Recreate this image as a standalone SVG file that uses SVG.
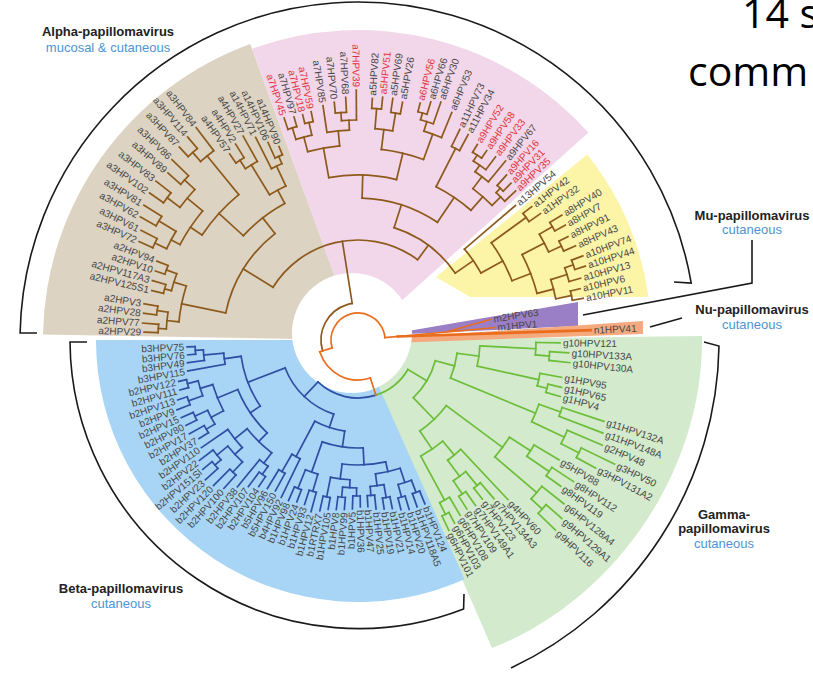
<svg xmlns="http://www.w3.org/2000/svg" width="813" height="673" viewBox="0 0 813 673">
<defs><style>
.t text{font-family:"Liberation Sans",Arial,Helvetica,sans-serif;font-size:10px;fill:#474747;dominant-baseline:central}
.t text.f{text-anchor:end}
.t text.r{fill:#e2333c}
.t path,.t circle{fill:none;stroke-width:1.7;stroke-linecap:square}
.ca path,.ca circle{stroke:#8d5a1c}
.cb path,.cb circle{stroke:#2d50a5}
.cg path,.cg circle{stroke:#6cbd37}
.co path,.co circle{stroke:#e96d1d}
.ttl{font-family:"Liberation Sans",Arial,sans-serif;font-size:13px;text-anchor:middle}
.ttl .h{font-weight:bold;fill:#222}
.ttl .s{fill:#4d94d0}
.con{fill:none;stroke:#1a1a1a;stroke-width:1.6}
.big{font-family:"Open Sans","Liberation Sans",sans-serif;font-size:41px;fill:#000}
</style></defs>
<rect width="813" height="673" fill="#fff"/>
<g id="sectors">
<path d="M358 340L43 334.5A315 315 0 0 1 250.3 44Z" fill="#dcd3c3"/>
<path d="M358 340L252 48.7A310 310 0 0 1 588.4 132.6Z" fill="#f2d6e9"/>
<path d="M436 277L587.3 154.4A295 295 0 0 1 648.5 297L470 297Z" fill="#fcf4a7"/>
<path d="M358 340L702 336C704 470 615 600 492 648Z" fill="#d3eacd"/>
<path d="M358 340L96 340A262 262 0 0 0 464.6 579.3Z" fill="#a8d5f5"/>
<path d="M408 331L578 302L578 326L408 334Z" fill="#9b7fc6"/>
<path d="M392 338L643 321L643 334L392 343Z" fill="#f4a97e"/>
<circle cx="352" cy="333" r="60" fill="#fff"/>
</g>
<g id="connectors" class="con">
<path d="M37 333L20.1 332.9A338 338 0 0 1 691.2 283.1L674 282"/>
<path d="M87 342L70 342A289 289 0 0 0 463.6 609L464 594"/>
<path d="M704 342L719 346A362 362 0 0 1 511 668"/>
<path d="M752 240V283L583 315"/>
<path d="M650 327L682 318"/>
</g>
<g id="alpha" class="t ca" transform="translate(358 340)">
<circle r="37" pathLength="360" stroke-dasharray="98 720" transform="rotate(163)"/>
<circle r="200" pathLength="360" stroke-dasharray="2.4 720" transform="rotate(182.1)"/>
<circle r="203" pathLength="360" stroke-dasharray="2.5 720" transform="rotate(187.1)"/>
<circle r="192" pathLength="360" stroke-dasharray="5.05 720" transform="rotate(183.3)"/>
<circle r="200" pathLength="360" stroke-dasharray="2.6 720" transform="rotate(193.5)"/>
<circle r="204" pathLength="360" stroke-dasharray="2.6 720" transform="rotate(198.8)"/>
<circle r="193" pathLength="360" stroke-dasharray="5.3 720" transform="rotate(194.8)"/>
<circle r="180" pathLength="360" stroke-dasharray="11.65 720" transform="rotate(185.8)"/>
<circle r="225" pathLength="360" stroke-dasharray="2.6 720" transform="rotate(204.2)"/>
<circle r="232" pathLength="360" stroke-dasharray="2.7 720" transform="rotate(209.5)"/>
<circle r="212" pathLength="360" stroke-dasharray="5.35 720" transform="rotate(205.5)"/>
<circle r="238" pathLength="360" stroke-dasharray="3 720" transform="rotate(215.2)"/>
<circle r="236" pathLength="360" stroke-dasharray="2.8 720" transform="rotate(221.3)"/>
<circle r="222" pathLength="360" stroke-dasharray="6 720" transform="rotate(216.7)"/>
<circle r="202" pathLength="360" stroke-dasharray="11.5 720" transform="rotate(208.2)"/>
<circle r="250" pathLength="360" stroke-dasharray="2.8 720" transform="rotate(227.2)"/>
<circle r="238" pathLength="360" stroke-dasharray="4.1 720" transform="rotate(228.6)"/>
<circle r="188" pathLength="360" stroke-dasharray="16.7 720" transform="rotate(213.95)"/>
<circle r="215" pathLength="360" stroke-dasharray="2.6 720" transform="rotate(235.4)"/>
<circle r="205" pathLength="360" stroke-dasharray="3.9 720" transform="rotate(236.7)"/>
<circle r="200" pathLength="360" stroke-dasharray="2.3 720" transform="rotate(245.5)"/>
<circle r="192" pathLength="360" stroke-dasharray="3.45 720" transform="rotate(243.2)"/>
<circle r="170" pathLength="360" stroke-dasharray="6.25 720" transform="rotate(238.65)"/>
<circle r="155" pathLength="360" stroke-dasharray="19.5 720" transform="rotate(222.3)"/>
<circle r="135" pathLength="360" stroke-dasharray="40.45 720" transform="rotate(191.6)"/>
<circle r="222" pathLength="360" stroke-dasharray="2.4 720" transform="rotate(251.6)"/>
<circle r="223" pathLength="360" stroke-dasharray="2.2 720" transform="rotate(256.2)"/>
<circle r="210" pathLength="360" stroke-dasharray="4.5 720" transform="rotate(252.8)"/>
<circle r="228" pathLength="360" stroke-dasharray="2.8 720" transform="rotate(264.3)"/>
<circle r="220" pathLength="360" stroke-dasharray="3.9 720" transform="rotate(265.7)"/>
<circle r="210" pathLength="360" stroke-dasharray="6.15 720" transform="rotate(261.5)"/>
<circle r="195" pathLength="360" stroke-dasharray="9.55 720" transform="rotate(255.05)"/>
<circle r="232" pathLength="360" stroke-dasharray="2.4 720" transform="rotate(273.4)"/>
<circle r="230" pathLength="360" stroke-dasharray="2.4 720" transform="rotate(278.2)"/>
<circle r="212" pathLength="360" stroke-dasharray="4.8 720" transform="rotate(274.6)"/>
<circle r="236" pathLength="360" stroke-dasharray="2.3 720" transform="rotate(284.7)"/>
<circle r="229" pathLength="360" stroke-dasharray="3.35 720" transform="rotate(285.85)"/>
<circle r="219" pathLength="360" stroke-dasharray="4.9 720" transform="rotate(287.5)"/>
<circle r="192" pathLength="360" stroke-dasharray="12.95 720" transform="rotate(277)"/>
<circle r="165" pathLength="360" stroke-dasharray="23.7 720" transform="rotate(259.8)"/>
<circle r="215" pathLength="360" stroke-dasharray="2.4 720" transform="rotate(295.8)"/>
<circle r="220" pathLength="360" stroke-dasharray="2.8 720" transform="rotate(301.4)"/>
<circle r="213" pathLength="360" stroke-dasharray="4.1 720" transform="rotate(302.8)"/>
<circle r="205" pathLength="360" stroke-dasharray="4.65 720" transform="rotate(304.85)"/>
<circle r="208" pathLength="360" stroke-dasharray="2.3 720" transform="rotate(312)"/>
<circle r="202" pathLength="360" stroke-dasharray="3.45 720" transform="rotate(313.15)"/>
<circle r="190" pathLength="360" stroke-dasharray="7.7 720" transform="rotate(307.2)"/>
<circle r="172" pathLength="360" stroke-dasharray="14.05 720" transform="rotate(297)"/>
<circle r="142" pathLength="360" stroke-dasharray="32.35 720" transform="rotate(271.65)"/>
<circle r="208" pathLength="360" stroke-dasharray="2.8 720" transform="rotate(322.5)"/>
<circle r="225" pathLength="360" stroke-dasharray="2.5 720" transform="rotate(328.5)"/>
<circle r="224" pathLength="360" stroke-dasharray="2.8 720" transform="rotate(333.8)"/>
<circle r="210" pathLength="360" stroke-dasharray="5.45 720" transform="rotate(329.75)"/>
<circle r="228" pathLength="360" stroke-dasharray="2.5 720" transform="rotate(339.5)"/>
<circle r="219" pathLength="360" stroke-dasharray="3.75 720" transform="rotate(340.75)"/>
<circle r="218" pathLength="360" stroke-dasharray="2.5 720" transform="rotate(347)"/>
<circle r="202" pathLength="360" stroke-dasharray="5.65 720" transform="rotate(342.6)"/>
<circle r="185" pathLength="360" stroke-dasharray="12.9 720" transform="rotate(332.5)"/>
<circle r="165" pathLength="360" stroke-dasharray="15.05 720" transform="rotate(323.9)"/>
<circle r="140" pathLength="360" stroke-dasharray="11.9 720" transform="rotate(319.5)"/>
<circle r="118" pathLength="360" stroke-dasharray="37.65 720" transform="rotate(287.8)"/>
<circle r="100" pathLength="360" stroke-dasharray="94.8 720" transform="rotate(211.8)"/>
<path transform="rotate(183.3)" d="M192 0H200"/>
<path transform="rotate(188.35)" d="M192 0H203"/>
<path transform="rotate(185.8)" d="M180 0H192"/>
<path transform="rotate(194.8)" d="M193 0H200"/>
<path transform="rotate(200.1)" d="M193 0H204"/>
<path transform="rotate(197.45)" d="M180 0H193"/>
<path transform="rotate(191.6)" d="M135 0H180"/>
<path transform="rotate(205.5)" d="M212 0H225"/>
<path transform="rotate(210.85)" d="M212 0H232"/>
<path transform="rotate(208.2)" d="M202 0H212"/>
<path transform="rotate(216.7)" d="M222 0H238"/>
<path transform="rotate(222.7)" d="M222 0H236"/>
<path transform="rotate(219.7)" d="M202 0H222"/>
<path transform="rotate(213.95)" d="M188 0H202"/>
<path transform="rotate(228.6)" d="M238 0H250"/>
<path transform="rotate(230.65)" d="M188 0H238"/>
<path transform="rotate(222.3)" d="M155 0H188"/>
<path transform="rotate(236.7)" d="M205 0H215"/>
<path transform="rotate(238.65)" d="M170 0H205"/>
<path transform="rotate(246.65)" d="M192 0H200"/>
<path transform="rotate(244.9)" d="M170 0H192"/>
<path transform="rotate(241.8)" d="M155 0H170"/>
<path transform="rotate(232.05)" d="M135 0H155"/>
<path transform="rotate(211.8)" d="M100 0H135"/>
<path transform="rotate(252.8)" d="M210 0H222"/>
<path transform="rotate(257.3)" d="M210 0H223"/>
<path transform="rotate(255.05)" d="M195 0H210"/>
<path transform="rotate(265.7)" d="M220 0H228"/>
<path transform="rotate(267.65)" d="M210 0H220"/>
<path transform="rotate(264.6)" d="M195 0H210"/>
<path transform="rotate(259.8)" d="M165 0H195"/>
<path transform="rotate(274.6)" d="M212 0H232"/>
<path transform="rotate(279.4)" d="M212 0H230"/>
<path transform="rotate(277)" d="M192 0H212"/>
<path transform="rotate(285.85)" d="M229 0H236"/>
<path transform="rotate(287.5)" d="M219 0H229"/>
<path transform="rotate(289.95)" d="M192 0H219"/>
<path transform="rotate(283.5)" d="M165 0H192"/>
<path transform="rotate(271.65)" d="M142 0H165"/>
<path transform="rotate(297)" d="M172 0H215"/>
<path transform="rotate(302.8)" d="M213 0H220"/>
<path transform="rotate(304.85)" d="M205 0H213"/>
<path transform="rotate(307.2)" d="M190 0H205"/>
<path transform="rotate(313.15)" d="M202 0H208"/>
<path transform="rotate(314.9)" d="M190 0H202"/>
<path transform="rotate(311.05)" d="M172 0H190"/>
<path transform="rotate(304)" d="M142 0H172"/>
<path transform="rotate(287.8)" d="M118 0H142"/>
<path transform="rotate(323.9)" d="M165 0H208"/>
<path transform="rotate(329.75)" d="M210 0H225"/>
<path transform="rotate(335.2)" d="M210 0H224"/>
<path transform="rotate(332.5)" d="M185 0H210"/>
<path transform="rotate(340.75)" d="M219 0H228"/>
<path transform="rotate(342.6)" d="M202 0H219"/>
<path transform="rotate(348.25)" d="M202 0H218"/>
<path transform="rotate(345.4)" d="M185 0H202"/>
<path transform="rotate(338.95)" d="M165 0H185"/>
<path transform="rotate(331.4)" d="M140 0H165"/>
<path transform="rotate(325.45)" d="M118 0H140"/>
<path transform="rotate(306.6)" d="M100 0H118"/>
<path transform="rotate(261)" d="M37 0H100"/>
<g id="a2HPV29" transform="rotate(182.1)"><path d="M200 0H214"/><text class="f" transform="translate(217)rotate(180)">a2HPV29</text></g>
<g id="a2HPV77" transform="rotate(184.5)"><path d="M200 0H216"/><text class="f" transform="translate(219)rotate(180)">a2HPV77</text></g>
<g id="a2HPV28" transform="rotate(187.1)"><path d="M203 0H216"/><text class="f" transform="translate(219)rotate(180)">a2HPV28</text></g>
<g id="a2HPV3" transform="rotate(189.6)"><path d="M203 0H217"/><text class="f" transform="translate(220)rotate(180)">a2HPV3</text></g>
<g id="a2HPV125S1" transform="rotate(193.5)"><path d="M200 0H212"/><text class="f" transform="translate(215)rotate(180)">a2HPV125S1</text></g>
<g id="a2HPV117A3" transform="rotate(196.1)"><path d="M200 0H214"/><text class="f" transform="translate(217)rotate(180)">a2HPV117A3</text></g>
<g id="a2HPV10" transform="rotate(198.8)"><path d="M204 0H214"/><text class="f" transform="translate(217)rotate(180)">a2HPV10</text></g>
<g id="a2HPV94" transform="rotate(201.4)"><path d="M204 0H216"/><text class="f" transform="translate(219)rotate(180)">a2HPV94</text></g>
<g id="a3HPV72" transform="rotate(204.2)"><path d="M225 0H240"/><text class="f" transform="translate(243)rotate(180)">a3HPV72</text></g>
<g id="a3HPV61" transform="rotate(206.8)"><path d="M225 0H243"/><text class="f" transform="translate(246)rotate(180)">a3HPV61</text></g>
<g id="a3HPV62" transform="rotate(209.5)"><path d="M232 0H250"/><text class="f" transform="translate(253)rotate(180)">a3HPV62</text></g>
<g id="a3HPV81" transform="rotate(212.2)"><path d="M232 0H253"/><text class="f" transform="translate(256)rotate(180)">a3HPV81</text></g>
<g id="a3HPV102" transform="rotate(215.2)"><path d="M238 0H255"/><text class="f" transform="translate(258)rotate(180)">a3HPV102</text></g>
<g id="a3HPV83" transform="rotate(218.2)"><path d="M238 0H257"/><text class="f" transform="translate(260)rotate(180)">a3HPV83</text></g>
<g id="a3HPV89" transform="rotate(221.3)"><path d="M236 0H253"/><text class="f" transform="translate(256)rotate(180)">a3HPV89</text></g>
<g id="a3HPV86" transform="rotate(224.1)"><path d="M236 0H259"/><text class="f" transform="translate(262)rotate(180)">a3HPV86</text></g>
<g id="a3HPV87" transform="rotate(227.2)"><path d="M250 0H263"/><text class="f" transform="translate(266)rotate(180)">a3HPV87</text></g>
<g id="a3HPV114" transform="rotate(230)"><path d="M250 0H265"/><text class="f" transform="translate(268)rotate(180)">a3HPV114</text></g>
<g id="a3HPV84" transform="rotate(232.7)"><path d="M238 0H267"/><text class="f" transform="translate(270)rotate(180)">a3HPV84</text></g>
<g id="a4HPV57" transform="rotate(235.4)"><path d="M215 0H226"/><text class="f" transform="translate(229)rotate(180)">a4HPV57</text></g>
<g id="a4HPV2" transform="rotate(238)"><path d="M215 0H231"/><text class="f" transform="translate(234)rotate(180)">a4HPV2</text></g>
<g id="a4HPV27" transform="rotate(240.6)"><path d="M205 0H234"/><text class="f" transform="translate(237)rotate(180)">a4HPV27</text></g>
<g id="a14HPV71" transform="rotate(243.2)"><path d="M192 0H227"/><text class="f" transform="translate(230)rotate(180)">a14HPV71</text></g>
<g id="a14HPV106" transform="rotate(245.5)"><path d="M200 0H217"/><text class="f" transform="translate(220)rotate(180)">a14HPV106</text></g>
<g id="a14HPV90" transform="rotate(247.8)"><path d="M200 0H209"/><text class="f" transform="translate(212)rotate(180)">a14HPV90</text></g>
<g id="a7HPV45" transform="rotate(251.6)"><path d="M222 0H234"/><text class="f r" transform="translate(237)rotate(180)">a7HPV45</text></g>
<g id="a7HPV97" transform="rotate(254)"><path d="M222 0H232"/><text class="f" transform="translate(235)rotate(180)">a7HPV97</text></g>
<g id="a7HPV18" transform="rotate(256.2)"><path d="M223 0H232"/><text class="f r" transform="translate(235)rotate(180)">a7HPV18</text></g>
<g id="a7HPV59" transform="rotate(258.4)"><path d="M223 0H233"/><text class="f r" transform="translate(236)rotate(180)">a7HPV59</text></g>
<g id="a7HPV85" transform="rotate(261.5)"><path d="M210 0H237"/><text class="f" transform="translate(240)rotate(180)">a7HPV85</text></g>
<g id="a7HPV70" transform="rotate(264.3)"><path d="M228 0H239"/><text class="f" transform="translate(242)rotate(180)">a7HPV70</text></g>
<g id="a7HPV68" transform="rotate(267.1)"><path d="M228 0H243"/><text class="f" transform="translate(246)rotate(180)">a7HPV68</text></g>
<g id="a7HPV39" transform="rotate(269.6)"><path d="M220 0H250"/><text class="f r" transform="translate(253)rotate(180)">a7HPV39</text></g>
<g id="a5HPV82" transform="rotate(273.4)"><path d="M232 0H242"/><text x="245">a5HPV82</text></g>
<g id="a5HPV51" transform="rotate(275.8)"><path d="M232 0H244"/><text class="r" x="247">a5HPV51</text></g>
<g id="a5HPV69" transform="rotate(278.2)"><path d="M230 0H244"/><text x="247">a5HPV69</text></g>
<g id="a5HPV26" transform="rotate(280.6)"><path d="M230 0H242"/><text x="245">a5HPV26</text></g>
<g id="a6HPV56" transform="rotate(284.7)"><path d="M236 0H245"/><text class="r" x="248">a6HPV56</text></g>
<g id="a6HPV66" transform="rotate(287)"><path d="M236 0H249"/><text x="252">a6HPV66</text></g>
<g id="a6HPV30" transform="rotate(289.2)"><path d="M229 0H252"/><text x="255">a6HPV30</text></g>
<g id="a6HPV53" transform="rotate(292.4)"><path d="M219 0H246"/><text x="249">a6HPV53</text></g>
<g id="a11HPV73" transform="rotate(295.8)"><path d="M215 0H234"/><text x="237">a11HPV73</text></g>
<g id="a11HPV34" transform="rotate(298.2)"><path d="M215 0H233"/><text x="236">a11HPV34</text></g>
<g id="a9HPV52" transform="rotate(301.4)"><path d="M220 0H229"/><text class="r" x="232">a9HPV52</text></g>
<g id="a9HPV58" transform="rotate(304.2)"><path d="M220 0H229"/><text class="r" x="232">a9HPV58</text></g>
<g id="a9HPV33" transform="rotate(306.9)"><path d="M213 0H229"/><text class="r" x="232">a9HPV33</text></g>
<g id="a9HPV67" transform="rotate(309.5)"><path d="M205 0H232"/><text x="235">a9HPV67</text></g>
<g id="a9HPV16" transform="rotate(312)"><path d="M208 0H222"/><text class="r" x="225">a9HPV16</text></g>
<g id="a9HPV31" transform="rotate(314.3)"><path d="M208 0H219"/><text class="r" x="222">a9HPV31</text></g>
<g id="a9HPV35" transform="rotate(316.6)"><path d="M202 0H217"/><text class="r" x="220">a9HPV35</text></g>
<g id="a13HPV54" transform="rotate(319.5)"><path d="M140 0H207"/><text x="210">a13HPV54</text></g>
<g id="a1HPV42" transform="rotate(322.5)"><path d="M208 0H219"/><text x="222">a1HPV42</text></g>
<g id="a1HPV32" transform="rotate(325.3)"><path d="M208 0H222"/><text x="225">a1HPV32</text></g>
<g id="a8HPV40" transform="rotate(328.5)"><path d="M225 0H239"/><text x="242">a8HPV40</text></g>
<g id="a8HPV7" transform="rotate(331)"><path d="M225 0H237"/><text x="240">a8HPV7</text></g>
<g id="a8HPV91" transform="rotate(333.8)"><path d="M224 0H234"/><text x="237">a8HPV91</text></g>
<g id="a8HPV43" transform="rotate(336.6)"><path d="M224 0H237"/><text x="240">a8HPV43</text></g>
<g id="a10HPV74" transform="rotate(339.5)"><path d="M228 0H240"/><text x="243">a10HPV74</text></g>
<g id="a10HPV44" transform="rotate(342)"><path d="M228 0H239"/><text x="242">a10HPV44</text></g>
<g id="a10HPV13" transform="rotate(344.5)"><path d="M219 0H231"/><text x="234">a10HPV13</text></g>
<g id="a10HPV6" transform="rotate(347)"><path d="M218 0H228"/><text x="231">a10HPV6</text></g>
<g id="a10HPV11" transform="rotate(349.5)"><path d="M218 0H229"/><text x="232">a10HPV11</text></g>
</g>
<g id="beta" class="t cb" transform="translate(358 340)">
<circle r="58" pathLength="360" stroke-dasharray="61.6 720" transform="rotate(72)"/>
<circle r="163" pathLength="360" stroke-dasharray="2.7 720" transform="rotate(67.8)"/>
<circle r="163" pathLength="360" stroke-dasharray="2.6 720" transform="rotate(73.2)"/>
<circle r="150" pathLength="360" stroke-dasharray="5.35 720" transform="rotate(69.15)"/>
<circle r="160" pathLength="360" stroke-dasharray="2.7 720" transform="rotate(78.5)"/>
<circle r="156" pathLength="360" stroke-dasharray="2.7 720" transform="rotate(83.9)"/>
<circle r="147" pathLength="360" stroke-dasharray="5.4 720" transform="rotate(79.85)"/>
<circle r="135" pathLength="360" stroke-dasharray="10.75 720" transform="rotate(71.8)"/>
<circle r="156" pathLength="360" stroke-dasharray="2.7 720" transform="rotate(89.2)"/>
<circle r="158" pathLength="360" stroke-dasharray="2.7 720" transform="rotate(94.6)"/>
<circle r="148" pathLength="360" stroke-dasharray="5.4 720" transform="rotate(90.55)"/>
<circle r="160" pathLength="360" stroke-dasharray="2.6 720" transform="rotate(100)"/>
<circle r="140" pathLength="360" stroke-dasharray="8.05 720" transform="rotate(93.25)"/>
<circle r="125" pathLength="360" stroke-dasharray="20.1 720" transform="rotate(77.2)"/>
<circle r="158" pathLength="360" stroke-dasharray="2.7 720" transform="rotate(105.3)"/>
<circle r="160" pathLength="360" stroke-dasharray="2.7 720" transform="rotate(110.7)"/>
<circle r="140" pathLength="360" stroke-dasharray="5.4 720" transform="rotate(106.65)"/>
<circle r="108" pathLength="360" stroke-dasharray="22.1 720" transform="rotate(87.25)"/>
<circle r="152" pathLength="360" stroke-dasharray="2.7 720" transform="rotate(118.7)"/>
<circle r="132" pathLength="360" stroke-dasharray="4.05 720" transform="rotate(116)"/>
<circle r="92" pathLength="360" stroke-dasharray="19.7 720" transform="rotate(98.3)"/>
<circle r="165" pathLength="360" stroke-dasharray="2.7 720" transform="rotate(124.1)"/>
<circle r="155" pathLength="360" stroke-dasharray="3.95 720" transform="rotate(125.45)"/>
<circle r="182" pathLength="360" stroke-dasharray="2.7 720" transform="rotate(132.1)"/>
<circle r="190" pathLength="360" stroke-dasharray="2.7 720" transform="rotate(137.5)"/>
<circle r="182" pathLength="360" stroke-dasharray="3.95 720" transform="rotate(138.85)"/>
<circle r="168" pathLength="360" stroke-dasharray="7.35 720" transform="rotate(133.45)"/>
<circle r="158" pathLength="360" stroke-dasharray="8.4 720" transform="rotate(137.1)"/>
<circle r="142" pathLength="360" stroke-dasharray="13.9 720" transform="rotate(127.4)"/>
<circle r="176" pathLength="360" stroke-dasharray="2.7 720" transform="rotate(148.2)"/>
<circle r="180" pathLength="360" stroke-dasharray="2.7 720" transform="rotate(153.6)"/>
<circle r="166" pathLength="360" stroke-dasharray="5.4 720" transform="rotate(149.55)"/>
<circle r="180" pathLength="360" stroke-dasharray="2.7 720" transform="rotate(158.9)"/>
<circle r="176" pathLength="360" stroke-dasharray="2.7 720" transform="rotate(164.3)"/>
<circle r="165" pathLength="360" stroke-dasharray="5.4 720" transform="rotate(160.25)"/>
<circle r="152" pathLength="360" stroke-dasharray="10.7 720" transform="rotate(152.25)"/>
<circle r="130" pathLength="360" stroke-dasharray="23.25 720" transform="rotate(134.35)"/>
<circle r="163" pathLength="360" stroke-dasharray="2.7 720" transform="rotate(175)"/>
<circle r="155" pathLength="360" stroke-dasharray="3.95 720" transform="rotate(172.4)"/>
<circle r="135" pathLength="360" stroke-dasharray="4.7 720" transform="rotate(169.7)"/>
<circle r="118" pathLength="360" stroke-dasharray="26.1 720" transform="rotate(145.95)"/>
<circle r="78" pathLength="360" stroke-dasharray="50.85 720" transform="rotate(108.15)"/>
<path transform="rotate(69.15)" d="M150 0H163"/>
<path transform="rotate(74.5)" d="M150 0H163"/>
<path transform="rotate(71.8)" d="M135 0H150"/>
<path transform="rotate(79.85)" d="M147 0H160"/>
<path transform="rotate(85.25)" d="M147 0H156"/>
<path transform="rotate(82.55)" d="M135 0H147"/>
<path transform="rotate(77.2)" d="M125 0H135"/>
<path transform="rotate(90.55)" d="M148 0H156"/>
<path transform="rotate(95.95)" d="M148 0H158"/>
<path transform="rotate(93.25)" d="M140 0H148"/>
<path transform="rotate(101.3)" d="M140 0H160"/>
<path transform="rotate(97.3)" d="M125 0H140"/>
<path transform="rotate(87.25)" d="M108 0H125"/>
<path transform="rotate(106.65)" d="M140 0H158"/>
<path transform="rotate(112.05)" d="M140 0H160"/>
<path transform="rotate(109.35)" d="M108 0H140"/>
<path transform="rotate(98.3)" d="M92 0H108"/>
<path transform="rotate(120.05)" d="M132 0H152"/>
<path transform="rotate(118)" d="M92 0H132"/>
<path transform="rotate(108.15)" d="M78 0H92"/>
<path transform="rotate(125.45)" d="M155 0H165"/>
<path transform="rotate(127.4)" d="M142 0H155"/>
<path transform="rotate(133.45)" d="M168 0H182"/>
<path transform="rotate(138.85)" d="M182 0H190"/>
<path transform="rotate(140.8)" d="M168 0H182"/>
<path transform="rotate(137.1)" d="M158 0H168"/>
<path transform="rotate(141.3)" d="M142 0H158"/>
<path transform="rotate(134.35)" d="M130 0H142"/>
<path transform="rotate(149.55)" d="M166 0H176"/>
<path transform="rotate(154.95)" d="M166 0H180"/>
<path transform="rotate(152.25)" d="M152 0H166"/>
<path transform="rotate(160.25)" d="M165 0H180"/>
<path transform="rotate(165.65)" d="M165 0H176"/>
<path transform="rotate(162.95)" d="M152 0H165"/>
<path transform="rotate(157.6)" d="M130 0H152"/>
<path transform="rotate(145.95)" d="M118 0H130"/>
<path transform="rotate(176.35)" d="M155 0H163"/>
<path transform="rotate(174.4)" d="M135 0H155"/>
<path transform="rotate(172.05)" d="M118 0H135"/>
<path transform="rotate(159)" d="M78 0H118"/>
<path transform="rotate(133.6)" d="M58 0H78"/>
<g id="b1HPV124" transform="rotate(67.8)"><path d="M163 0H177"/><text x="180">b1HPV124</text></g>
<g id="b1HPV118A5" transform="rotate(70.5)"><path d="M163 0H177"/><text x="180">b1HPV118A5</text></g>
<g id="b1HPV20" transform="rotate(73.2)"><path d="M163 0H177"/><text x="180">b1HPV20</text></g>
<g id="b1HPV14" transform="rotate(75.8)"><path d="M163 0H175"/><text x="178">b1HPV14</text></g>
<g id="b1HPV21" transform="rotate(78.5)"><path d="M160 0H172"/><text x="175">b1HPV21</text></g>
<g id="b1HPV19" transform="rotate(81.2)"><path d="M160 0H171"/><text x="174">b1HPV19</text></g>
<g id="b1HPV25" transform="rotate(83.9)"><path d="M156 0H170"/><text x="173">b1HPV25</text></g>
<g id="b1HPV47" transform="rotate(86.6)"><path d="M156 0H167"/><text x="170">b1HPV47</text></g>
<g id="b1HPV36" transform="rotate(89.2)"><path d="M156 0H167"/><text x="170">b1HPV36</text></g>
<g id="b1HPV5" transform="rotate(91.9)"><path d="M156 0H169"/><text class="f" transform="translate(172)rotate(180)">b1HPV5</text></g>
<g id="b1HPV99" transform="rotate(94.6)"><path d="M158 0H170"/><text class="f" transform="translate(173)rotate(180)">b1HPV99</text></g>
<g id="b1HPV8" transform="rotate(97.3)"><path d="M158 0H171"/><text class="f" transform="translate(174)rotate(180)">b1HPV8</text></g>
<g id="b1HPV105" transform="rotate(100)"><path d="M160 0H172"/><text class="f" transform="translate(175)rotate(180)">b1HPV105</text></g>
<g id="b1RTRX7" transform="rotate(102.6)"><path d="M160 0H175"/><text class="f" transform="translate(178)rotate(180)">b1RTRX7</text></g>
<g id="b1HPV12" transform="rotate(105.3)"><path d="M158 0H178"/><text class="f" transform="translate(181)rotate(180)">b1HPV12</text></g>
<g id="b1HPV93" transform="rotate(108)"><path d="M158 0H173"/><text class="f" transform="translate(176)rotate(180)">b1HPV93</text></g>
<g id="b1HPV24" transform="rotate(110.7)"><path d="M160 0H173"/><text class="f" transform="translate(176)rotate(180)">b1HPV24</text></g>
<g id="b1HPV98" transform="rotate(113.4)"><path d="M160 0H175"/><text class="f" transform="translate(178)rotate(180)">b1HPV98</text></g>
<g id="b4HPV92" transform="rotate(116)"><path d="M132 0H175"/><text class="f" transform="translate(178)rotate(180)">b4HPV92</text></g>
<g id="b5HPV150" transform="rotate(118.7)"><path d="M152 0H172"/><text class="f" transform="translate(175)rotate(180)">b5HPV150</text></g>
<g id="b5HPV96" transform="rotate(121.4)"><path d="M152 0H174"/><text class="f" transform="translate(177)rotate(180)">b5HPV96</text></g>
<g id="b2HPV104" transform="rotate(124.1)"><path d="M165 0H177"/><text class="f" transform="translate(180)rotate(180)">b2HPV104</text></g>
<g id="b2HPV107" transform="rotate(126.8)"><path d="M165 0H183"/><text class="f" transform="translate(186)rotate(180)">b2HPV107</text></g>
<g id="b2HPV38" transform="rotate(129.4)"><path d="M155 0H190"/><text class="f" transform="translate(193)rotate(180)">b2HPV38</text></g>
<g id="b2HPV100" transform="rotate(132.1)"><path d="M182 0H200"/><text class="f" transform="translate(203)rotate(180)">b2HPV100</text></g>
<g id="b2HPV120" transform="rotate(134.8)"><path d="M182 0H205"/><text class="f" transform="translate(208)rotate(180)">b2HPV120</text></g>
<g id="b2HPV23" transform="rotate(137.5)"><path d="M190 0H207"/><text class="f" transform="translate(210)rotate(180)">b2HPV23</text></g>
<g id="b2HPV151Sl" transform="rotate(140.2)"><path d="M190 0H202"/><text class="f" transform="translate(205)rotate(180)">b2HPV151Sl</text></g>
<g id="b2HPV22" transform="rotate(142.8)"><path d="M182 0H199"/><text class="f" transform="translate(202)rotate(180)">b2HPV22</text></g>
<g id="b2HPV110" transform="rotate(145.5)"><path d="M158 0H190"/><text class="f" transform="translate(193)rotate(180)">b2HPV110</text></g>
<g id="b2HPV37" transform="rotate(148.2)"><path d="M176 0H187"/><text class="f" transform="translate(190)rotate(180)">b2HPV37</text></g>
<g id="b2HPV17" transform="rotate(150.9)"><path d="M176 0H193"/><text class="f" transform="translate(196)rotate(180)">b2HPV17</text></g>
<g id="b2HPV80" transform="rotate(153.6)"><path d="M180 0H192"/><text class="f" transform="translate(195)rotate(180)">b2HPV80</text></g>
<g id="b2HPV15" transform="rotate(156.3)"><path d="M180 0H193"/><text class="f" transform="translate(196)rotate(180)">b2HPV15</text></g>
<g id="b2HPV9" transform="rotate(158.9)"><path d="M180 0H194"/><text class="f" transform="translate(197)rotate(180)">b2HPV9</text></g>
<g id="b2HPV113" transform="rotate(161.6)"><path d="M180 0H190"/><text class="f" transform="translate(193)rotate(180)">b2HPV113</text></g>
<g id="b2HPV111" transform="rotate(164.3)"><path d="M176 0H185"/><text class="f" transform="translate(188)rotate(180)">b2HPV111</text></g>
<g id="b2HPV122" transform="rotate(167)"><path d="M176 0H184"/><text class="f" transform="translate(187)rotate(180)">b2HPV122</text></g>
<g id="b3HPV115" transform="rotate(169.7)"><path d="M135 0H173"/><text class="f" transform="translate(176)rotate(180)">b3HPV115</text></g>
<g id="b3HPV49" transform="rotate(172.4)"><path d="M155 0H172"/><text class="f" transform="translate(175)rotate(180)">b3HPV49</text></g>
<g id="b3HPV76" transform="rotate(175)"><path d="M163 0H171"/><text class="f" transform="translate(174)rotate(180)">b3HPV76</text></g>
<g id="b3HPV75" transform="rotate(177.7)"><path d="M163 0H171"/><text class="f" transform="translate(174)rotate(180)">b3HPV75</text></g>
</g>
<g id="gamma" class="t cg" transform="translate(358 340)">
<circle r="58" pathLength="360" stroke-dasharray="41.4 720" transform="rotate(30.6)"/>
<circle r="192" pathLength="360" stroke-dasharray="2.6 720" transform="rotate(3.5)"/>
<circle r="178" pathLength="360" stroke-dasharray="4 720" transform="rotate(0.8)"/>
<circle r="195" pathLength="360" stroke-dasharray="2.5 720" transform="rotate(13.1)"/>
<circle r="185" pathLength="360" stroke-dasharray="3.95 720" transform="rotate(10.4)"/>
<circle r="122" pathLength="360" stroke-dasharray="9.6 720" transform="rotate(2.8)"/>
<circle r="215" pathLength="360" stroke-dasharray="2.5 720" transform="rotate(18.3)"/>
<circle r="248" pathLength="360" stroke-dasharray="2.5 720" transform="rotate(25.8)"/>
<circle r="228" pathLength="360" stroke-dasharray="3.75 720" transform="rotate(23.3)"/>
<circle r="192" pathLength="360" stroke-dasharray="5.65 720" transform="rotate(19.55)"/>
<circle r="100" pathLength="360" stroke-dasharray="14.8 720" transform="rotate(7.6)"/>
<circle r="232" pathLength="360" stroke-dasharray="2.5 720" transform="rotate(33.3)"/>
<circle r="205" pathLength="360" stroke-dasharray="3.75 720" transform="rotate(30.8)"/>
<circle r="250" pathLength="360" stroke-dasharray="2.7 720" transform="rotate(41.2)"/>
<circle r="235" pathLength="360" stroke-dasharray="4.05 720" transform="rotate(38.5)"/>
<circle r="180" pathLength="360" stroke-dasharray="7.8 720" transform="rotate(32.7)"/>
<circle r="188" pathLength="360" stroke-dasharray="2.6 720" transform="rotate(49.4)"/>
<circle r="186" pathLength="360" stroke-dasharray="2.6 720" transform="rotate(54.6)"/>
<circle r="170" pathLength="360" stroke-dasharray="5.2 720" transform="rotate(50.7)"/>
<circle r="150" pathLength="360" stroke-dasharray="6.5 720" transform="rotate(46.8)"/>
<circle r="195" pathLength="360" stroke-dasharray="2.3 720" transform="rotate(62.2)"/>
<circle r="182" pathLength="360" stroke-dasharray="3.55 720" transform="rotate(59.8)"/>
<circle r="132" pathLength="360" stroke-dasharray="11.55 720" transform="rotate(50.05)"/>
<circle r="110" pathLength="360" stroke-dasharray="19.2 720" transform="rotate(36.6)"/>
<circle r="80" pathLength="360" stroke-dasharray="31.2 720" transform="rotate(15)"/>
<path transform="rotate(4.8)" d="M178 0H192"/>
<path transform="rotate(2.8)" d="M122 0H178"/>
<path transform="rotate(14.35)" d="M185 0H195"/>
<path transform="rotate(12.4)" d="M122 0H185"/>
<path transform="rotate(7.6)" d="M100 0H122"/>
<path transform="rotate(19.55)" d="M192 0H215"/>
<path transform="rotate(27.05)" d="M228 0H248"/>
<path transform="rotate(25.2)" d="M192 0H228"/>
<path transform="rotate(22.4)" d="M100 0H192"/>
<path transform="rotate(15)" d="M80 0H100"/>
<path transform="rotate(34.55)" d="M205 0H232"/>
<path transform="rotate(32.7)" d="M180 0H205"/>
<path transform="rotate(42.55)" d="M235 0H250"/>
<path transform="rotate(40.5)" d="M180 0H235"/>
<path transform="rotate(36.6)" d="M110 0H180"/>
<path transform="rotate(50.7)" d="M170 0H188"/>
<path transform="rotate(55.9)" d="M170 0H186"/>
<path transform="rotate(53.3)" d="M150 0H170"/>
<path transform="rotate(50.05)" d="M132 0H150"/>
<path transform="rotate(63.35)" d="M182 0H195"/>
<path transform="rotate(61.6)" d="M132 0H182"/>
<path transform="rotate(55.8)" d="M110 0H132"/>
<path transform="rotate(46.2)" d="M80 0H110"/>
<path transform="rotate(30.6)" d="M58 0H80"/>
<g id="g10HPV121" transform="rotate(0.8)"><path d="M178 0H202"/><text x="205">g10HPV121</text></g>
<g id="g10HPV133A" transform="rotate(3.5)"><path d="M192 0H211"/><text x="214">g10HPV133A</text></g>
<g id="g10HPV130A" transform="rotate(6.1)"><path d="M192 0H213"/><text x="216">g10HPV130A</text></g>
<g id="g1HPV95" transform="rotate(10.4)"><path d="M185 0H207"/><text x="210">g1HPV95</text></g>
<g id="g1HPV65" transform="rotate(13.1)"><path d="M195 0H209"/><text x="212">g1HPV65</text></g>
<g id="g1HPV4" transform="rotate(15.6)"><path d="M195 0H210"/><text x="213">g1HPV4</text></g>
<g id="g11HPV132A" transform="rotate(18.3)"><path d="M215 0H259"/><text x="262">g11HPV132A</text></g>
<g id="g11HPV148A" transform="rotate(20.8)"><path d="M215 0H262"/><text x="265">g11HPV148A</text></g>
<g id="g2HPV48" transform="rotate(23.3)"><path d="M228 0H266"/><text x="269">g2HPV48</text></g>
<g id="g3HPV50" transform="rotate(25.8)"><path d="M248 0H285"/><text x="288">g3HPV50</text></g>
<g id="g3HPV131A2" transform="rotate(28.3)"><path d="M248 0H270"/><text x="273">g3HPV131A2</text></g>
<g id="g5HPV88" transform="rotate(30.8)"><path d="M205 0H234"/><text x="237">g5HPV88</text></g>
<g id="g8HPV112" transform="rotate(33.3)"><path d="M232 0H258"/><text x="261">g8HPV112</text></g>
<g id="g8HPV119" transform="rotate(35.8)"><path d="M232 0H250"/><text x="253">g8HPV119</text></g>
<g id="g6HPV128A4" transform="rotate(38.5)"><path d="M235 0H263"/><text x="266">g6HPV128A4</text></g>
<g id="g9HPV129A1" transform="rotate(41.2)"><path d="M250 0H271"/><text x="274">g9HPV129A1</text></g>
<g id="g9HPV116" transform="rotate(43.9)"><path d="M250 0H274"/><text x="277">g9HPV116</text></g>
<g id="g4HPV60" transform="rotate(46.8)"><path d="M150 0H219"/><text x="222">g4HPV60</text></g>
<g id="g7HPV134A3" transform="rotate(49.4)"><path d="M188 0H209"/><text x="212">g7HPV134A3</text></g>
<g id="g7HPV123" transform="rotate(52)"><path d="M188 0H202"/><text x="205">g7HPV123</text></g>
<g id="g7HPV149A1" transform="rotate(54.6)"><path d="M186 0H203"/><text x="206">g7HPV149A1</text></g>
<g id="g7HPV109" transform="rotate(57.2)"><path d="M186 0H201"/><text x="204">g7HPV109</text></g>
<g id="g6HPV108" transform="rotate(59.8)"><path d="M182 0H203"/><text x="206">g6HPV108</text></g>
<g id="g6HPV103" transform="rotate(62.2)"><path d="M195 0H207"/><text x="210">g6HPV103</text></g>
<g id="g6HPV101" transform="rotate(64.5)"><path d="M195 0H211"/><text x="214">g6HPV101</text></g>
</g>
<g id="root-mu-nu" class="t co" transform="translate(358 340)">
<circle r="27" pathLength="360" stroke-dasharray="192 720" transform="rotate(163)"/>
<circle r="40" pathLength="360" stroke-dasharray="91 720" transform="rotate(72)"/>
<path transform="rotate(163)" d="M27 0H40"/>
<path transform="rotate(72)" d="M40 0H58"/>
<path transform="rotate(355)" d="M27 0H40"/>
<path d="M39.8 -3.5L88 -8L132.4 -20.5M88 -8L136.4 -12.4"/>
<path d="M39.8 -3.5L232.8 -9.8" style="stroke-width:2.6"/>
<g id="m2HPV63" transform="rotate(351.2)"><text x="137">m2HPV63</text></g>
<g id="m1HPV1" transform="rotate(354.8)"><text x="140">m1HPV1</text></g>
<g id="n1HPV41" transform="rotate(357.6)"><text x="236">n1HPV41</text></g>
</g>
<g id="title-alpha" class="ttl"><text class="h" x="108" y="36">Alpha-papillomavirus</text><text class="s" x="108" y="52">mucosal &amp; cutaneous</text></g>
<g id="title-mu" class="ttl"><text class="h" x="752" y="220">Mu-papillomavirus</text><text class="s" x="752" y="234">cutaneous</text></g>
<g id="title-nu" class="ttl"><text class="h" x="752" y="314">Nu-papillomavirus</text><text class="s" x="752" y="329">cutaneous</text></g>
<g id="title-gamma" class="ttl"><text class="h" x="724" y="519">Gamma-</text><text class="h" x="724" y="533">papillomavirus</text><text class="s" x="724" y="548">cutaneous</text></g>
<g id="title-beta" class="ttl"><text class="h" x="121" y="593">Beta-papillomavirus</text><text class="s" x="121" y="608">cutaneous</text></g>
<g id="heading"><text class="big" x="742" y="28">14 s</text><text class="big" x="688" y="86">comm</text></g>
</svg>
